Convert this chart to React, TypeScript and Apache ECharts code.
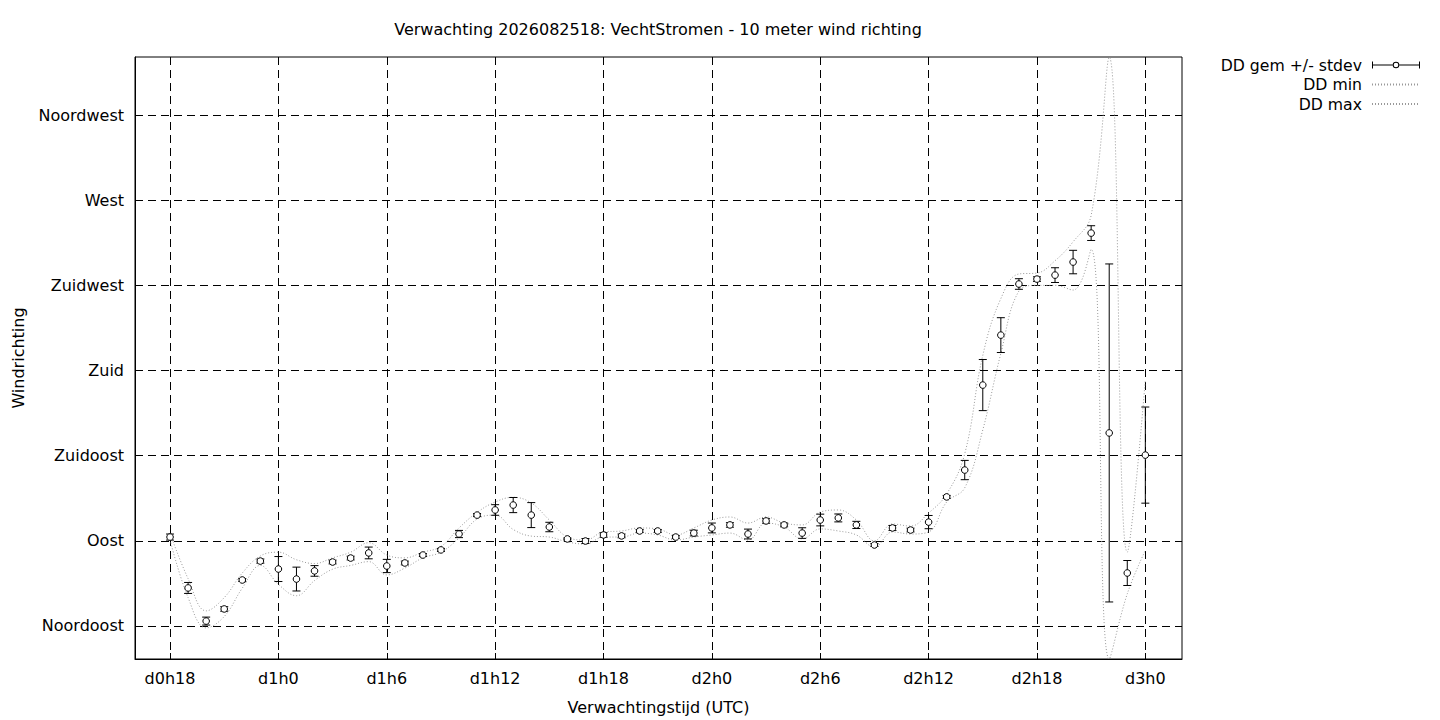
import React, { useEffect, useRef } from 'react';
import * as echarts from 'echarts';

// Forecast hours (hours since d0h0)
const hours = [
  18, 19, 20, 21, 22, 23, 24, 25, 26, 27, 28, 29, 30, 31, 32, 33, 34, 35, 36, 37,
  38, 39, 40, 41, 42, 43, 44, 45, 46, 47, 48, 49, 50, 51, 52, 53, 54, 55, 56, 57,
  58, 59, 60, 61, 62, 63, 64, 65, 66, 67, 68, 69, 70, 71, 72,
];

// DD gemiddelde (degrees)
const ddMean = [
  92.0, 65.1, 47.6, 54.0, 69.3, 79.3, 75.1, 69.8, 74.1, 78.8, 80.9, 83.6, 76.7, 78.3, 82.5, 85.2, 93.6, 103.6, 106.3, 108.9,
  103.6, 97.3, 91.0, 89.9, 93.1, 92.6, 95.2, 95.2, 92.0, 94.1, 96.8, 98.4, 93.6, 100.5, 98.4, 94.1, 101.0, 102.1, 98.4, 87.8,
  96.8, 95.7, 99.9, 113.2, 127.4, 172.3, 198.7, 225.7, 228.3, 230.4, 237.3, 252.6, 147.0, 73.0, 135.3,
];

// DD standaarddeviatie (degrees)
const ddStdev = [
  1.6, 2.9, 2.1, 1.2, 0.8, 1.1, 6.6, 6.3, 2.8, 1.0, 1.0, 3.1, 3.5, 1.0, 0.8, 0.8, 1.9, 0.8, 2.8, 4.0,
  6.6, 2.5, 0.5, 1.3, 1.2, 1.0, 0.8, 0.8, 0.8, 1.5, 2.6, 1.2, 2.6, 1.2, 1.0, 2.8, 3.1, 2.1, 1.9, 0.8,
  1.3, 1.0, 3.5, 0.8, 5.1, 13.5, 9.2, 2.8, 1.2, 3.9, 6.2, 3.9, 89.3, 6.6, 25.4,
];

// DD minimum (degrees)
const ddMin = [
  90.5, 60.0, 44.0, 50.0, 65.0, 77.0, 67.0, 61.0, 69.0, 75.0, 77.0, 79.0, 72.0, 75.6, 81.0, 84.0, 91.5, 101.5, 103.6, 96.0,
  92.5, 92.0, 89.4, 88.3, 92.0, 92.0, 94.1, 93.1, 90.4, 92.0, 93.1, 94.1, 90.4, 99.4, 97.3, 91.0, 96.3, 95.2, 93.1, 86.7,
  94.7, 93.6, 94.7, 110.5, 118.0, 148.6, 189.0, 222.0, 225.0, 225.0, 222.5, 244.0, 27.6, 62.0, 85.0,
];

// DD maximum (degrees)
const ddMax = [
  94.0, 70.0, 53.0, 60.0, 73.0, 82.0, 84.0, 80.0, 78.0, 81.0, 84.0, 89.0, 82.5, 81.0, 84.0, 87.0, 96.8, 105.0, 110.5, 113.0,
  110.0, 101.0, 92.0, 90.4, 94.7, 95.2, 96.8, 96.3, 93.1, 96.8, 101.0, 102.6, 99.4, 102.6, 99.4, 98.4, 105.2, 106.3, 101.0, 90.0,
  98.9, 97.8, 104.7, 114.7, 136.0, 188.0, 218.0, 231.0, 231.5, 238.0, 248.0, 262.0, 345.6, 84.0, 175.0,
];

const xTickHours = [18, 24, 30, 36, 42, 48, 54, 60, 66, 72];
const xTickLabels = ['d0h18', 'd1h0', 'd1h6', 'd1h12', 'd1h18', 'd2h0', 'd2h6', 'd2h12', 'd2h18', 'd3h0'];
const yTickValues = [45, 90, 135, 180, 225, 270, 315];
const yTickLabels = ['Noordoost', 'Oost', 'Zuidoost', 'Zuid', 'Zuidwest', 'West', 'Noordwest'];

const titleText = 'Verwachting 2026082518: VechtStromen - 10 meter wind richting';
const seriesNames = ['DD gem +/- stdev', 'DD min', 'DD max'];

const FONT = 'DejaVu Sans';
const FS = 16;
const LEGEND_FS = 15.7;

const errIcon =
  'path://M0 0 L1 0 L1 7 L0 7 Z M47 0 L48 0 L48 7 L47 7 Z M1 3 L20.8 3 L20.8 4 L1 4 Z M27.2 3 L47 3 L47 4 L27.2 4 Z ' +
  'M20.7 3.5 A3.3 3.3 0 1 0 27.3 3.5 A3.3 3.3 0 1 0 20.7 3.5 Z M21.7 3.5 A2.3 2.3 0 1 1 26.3 3.5 A2.3 2.3 0 1 1 21.7 3.5 Z';

export default function App() {
  const ref = useRef<HTMLDivElement>(null);

  useEffect(() => {
    if (!ref.current) return;
    const chart = echarts.init(ref.current, null, { renderer: 'svg' });

    const gridDash = { color: '#000', width: 1, type: [8, 5] as number[] };
    const textBase = { color: '#000', fontFamily: FONT, fontSize: FS };

    chart.setOption({
      animation: false,
      backgroundColor: '#fff',
      textStyle: { fontFamily: FONT },
      graphic: [
        {
          type: 'text',
          x: 658,
          y: 29,
          style: {
            text: titleText,
            fill: '#000',
            font: `${FS}px "${FONT}"`,
            align: 'center',
            verticalAlign: 'middle',
          },
        },
      ],
      legend: {
        orient: 'vertical',
        right: 14,
        top: 52,
        align: 'right',
        itemWidth: 48,
        itemHeight: 7,
        itemGap: 3.5,
        selectedMode: false,
        textStyle: { color: '#000', fontFamily: FONT, fontSize: LEGEND_FS, padding: [0, 5, 0, 0] },
        data: [
          { name: seriesNames[0], icon: errIcon },
          { name: seriesNames[1], itemStyle: { opacity: 0 } },
          { name: seriesNames[2], itemStyle: { opacity: 0 } },
        ],
      },
      grid: {
        left: 135,
        top: 57,
        right: 258,
        bottom: 61,
        show: true,
        borderColor: '#000',
        borderWidth: 1,
        backgroundColor: 'transparent',
      },
      xAxis: {
        type: 'value',
        min: 16.06,
        max: 74.03,
        name: 'Verwachtingstijd (UTC)',
        nameLocation: 'middle',
        nameGap: 40,
        nameTextStyle: textBase,
        axisLine: { show: true, onZero: false, lineStyle: { color: '#000' } },
        axisTick: { show: true, inside: true, length: 6, customValues: xTickHours, lineStyle: { color: '#000' } },
        axisLabel: {
          ...textBase,
          margin: 11,
          customValues: xTickHours,
          formatter: (v: number) => {
            const i = xTickHours.indexOf(Math.round(v));
            return i >= 0 ? xTickLabels[i] : '';
          },
        },
        splitLine: { show: true, lineStyle: gridDash },
      },
      yAxis: {
        type: 'value',
        min: 27.56,
        max: 345.65,
        name: 'Windrichting',
        nameLocation: 'middle',
        nameRotate: 90,
        nameGap: 109,
        nameTextStyle: textBase,
        axisLine: { show: true, onZero: false, lineStyle: { color: '#000' } },
        axisTick: { show: true, inside: true, length: 6, customValues: yTickValues, lineStyle: { color: '#000' } },
        axisLabel: {
          ...textBase,
          margin: 11,
          customValues: yTickValues,
          formatter: (v: number) => {
            const i = yTickValues.indexOf(Math.round(v));
            return i >= 0 ? yTickLabels[i] : '';
          },
        },
        splitLine: { show: true, lineStyle: gridDash },
      },
      series: [
        {
          name: seriesNames[1],
          type: 'line',
          data: hours.map((h, i) => [h, ddMin[i]]),
          smooth: 0.4,
          symbol: 'none',
          showSymbol: false,
          itemStyle: { color: '#999' },
          lineStyle: { color: '#999', width: 1, type: [1, 2] },
          z: 2,
        },
        {
          name: seriesNames[2],
          type: 'line',
          data: hours.map((h, i) => [h, ddMax[i]]),
          smooth: 0.4,
          symbol: 'none',
          showSymbol: false,
          itemStyle: { color: '#999' },
          lineStyle: { color: '#999', width: 1, type: [1, 2] },
          z: 2,
        },
        {
          name: seriesNames[0],
          type: 'custom',
          itemStyle: { color: '#000' },
          data: hours.map((h, i) => [h, ddMean[i], ddStdev[i]]),
          encode: { x: 0, y: 1 },
          z: 3,
          renderItem: (_params: any, api: any) => {
            const h = api.value(0);
            const m = api.value(1);
            const s = api.value(2);
            const c = api.coord([h, m]);
            const top = api.coord([h, m + s]);
            const bot = api.coord([h, m - s]);
            const w = 4;
            const st = { stroke: '#000', lineWidth: 1, fill: null };
            return {
              type: 'group',
              children: [
                { type: 'line', shape: { x1: c[0], y1: top[1], x2: c[0], y2: bot[1] }, style: st },
                { type: 'line', shape: { x1: c[0] - w, y1: top[1], x2: c[0] + w, y2: top[1] }, style: st },
                { type: 'line', shape: { x1: c[0] - w, y1: bot[1], x2: c[0] + w, y2: bot[1] }, style: st },
                {
                  type: 'circle',
                  shape: { cx: c[0], cy: c[1], r: 3.3 },
                  style: { fill: '#fff', stroke: '#000', lineWidth: 1 },
                },
              ],
            };
          },
        },
      ],
    });

    return () => {
      chart.dispose();
    };
  }, []);

  return (
    <div
      ref={ref}
      style={{ position: 'absolute', left: 0, top: 0, width: 1440, height: 720, background: '#fff' }}
    />
  );
}
